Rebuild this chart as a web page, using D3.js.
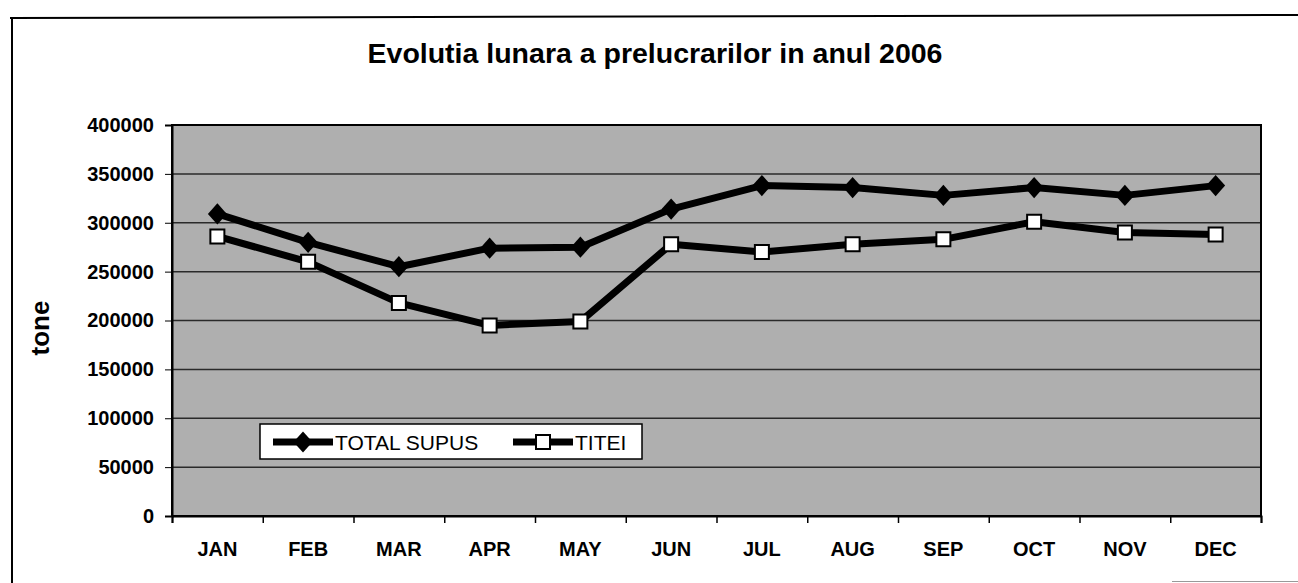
<!DOCTYPE html>
<html>
<head>
<meta charset="utf-8">
<script src="https://cdn.jsdelivr.net/npm/d3@7"></script>
<style>
  body { margin: 0; background: #fff; }
  svg { display: block; font-family: "Liberation Sans", Arial, sans-serif; }
  .axis path, .axis line { stroke: #000; }
</style>
</head>
<body>
<svg width="1298" height="583"></svg>
<script>
const months = ["JAN", "FEB", "MAR", "APR", "MAY", "JUN", "JUL", "AUG", "SEP", "OCT", "NOV", "DEC"];
const totalSupus = [309000, 280000, 255000, 274000, 275000, 314000, 338000, 336000, 328000, 336000, 328000, 338000];
const titei = [286000, 260000, 218000, 195000, 199000, 278000, 270000, 278000, 283000, 301000, 290000, 288000];
const yTicks = [0, 50000, 100000, 150000, 200000, 250000, 300000, 350000, 400000];

const svg = d3.select("svg");
const width = +svg.attr("width");
const height = +svg.attr("height");
const margin = { top: 125, right: 37, bottom: 67, left: 172 };
const innerWidth = width - margin.left - margin.right;
const innerHeight = height - margin.top - margin.bottom;

// outer frame (only top and left edges visible)
svg.append("line").attr("x1", 10).attr("x2", 1298).attr("y1", 18).attr("y2", 15)
  .attr("stroke", "#000").attr("stroke-width", 2);
svg.append("line").attr("x1", 12).attr("x2", 12).attr("y1", 18).attr("y2", 583)
  .attr("stroke", "#000").attr("stroke-width", 2);
svg.append("line").attr("x1", 1172).attr("x2", 1298).attr("y1", 581.5).attr("y2", 581.5)
  .attr("stroke", "#999").attr("stroke-width", 1);

svg.append("text")
  .attr("x", 655)
  .attr("y", 63)
  .attr("text-anchor", "middle")
  .attr("font-size", 28.5)
  .attr("font-weight", "bold")
  .text("Evolutia lunara a prelucrarilor in anul 2006");

const g = svg.append("g").attr("transform", `translate(${margin.left}, ${margin.top})`);

const xScale = d3.scaleBand().domain(months).range([0, innerWidth]);
const xEdge = d3.scaleLinear().domain([0, months.length]).range([0, innerWidth]);
const yScale = d3.scaleLinear().domain([0, 400000]).range([innerHeight, 0]);

g.append("rect")
  .attr("width", innerWidth)
  .attr("height", innerHeight)
  .attr("fill", "#afafaf");

g.selectAll(".grid")
  .data(yTicks)
  .enter()
  .append("line")
  .attr("class", "grid")
  .attr("x1", 0)
  .attr("x2", innerWidth)
  .attr("y1", (d) => yScale(d))
  .attr("y2", (d) => yScale(d))
  .attr("stroke", "#2a2a2a")
  .attr("stroke-width", 1.5);

g.append("rect")
  .attr("width", innerWidth)
  .attr("height", innerHeight)
  .attr("fill", "none")
  .attr("stroke", "#000")
  .attr("stroke-width", 2);

const yAxisG = g.append("g")
  .attr("class", "axis")
  .call(d3.axisLeft(yScale).tickValues(yTicks).tickFormat(d3.format("d")).tickSize(7).tickPadding(11));
yAxisG.select(".domain").attr("stroke-width", 2);
yAxisG.selectAll("text").attr("font-size", 20).attr("font-weight", "bold").attr("fill", "#000")
  .attr("font-family", "Liberation Sans, Arial, sans-serif");

const xTickG = g.append("g")
  .attr("class", "axis")
  .attr("transform", `translate(0, ${innerHeight})`)
  .call(d3.axisBottom(xEdge).tickValues(d3.range(months.length + 1)).tickFormat("").tickSize(7));
xTickG.select(".domain").attr("stroke-width", 2);
xTickG.selectAll("line").attr("stroke-width", 1.5);

const xAxisG = g.append("g")
  .attr("transform", `translate(0, ${innerHeight})`)
  .call(d3.axisBottom(xScale).tickSize(0).tickPadding(26));
xAxisG.select(".domain").remove();
xAxisG.selectAll("text").attr("font-size", 20).attr("font-weight", "bold").attr("fill", "#000")
  .attr("font-family", "Liberation Sans, Arial, sans-serif");

svg.append("text")
  .attr("transform", "translate(49, 328) rotate(-90)")
  .attr("text-anchor", "middle")
  .attr("font-size", 26)
  .attr("font-weight", "bold")
  .text("tone");

const xc = (d, i) => xScale(months[i]) + xScale.bandwidth() / 2;
const lineGenerator = d3.line().x(xc).y((d) => yScale(d));

g.append("path")
  .attr("d", lineGenerator(totalSupus))
  .attr("fill", "none")
  .attr("stroke", "#000")
  .attr("stroke-width", 7)
  .attr("stroke-linejoin", "round");

g.append("path")
  .attr("d", lineGenerator(titei))
  .attr("fill", "none")
  .attr("stroke", "#000")
  .attr("stroke-width", 7)
  .attr("stroke-linejoin", "round");

const diamond = d3.symbol().type(d3.symbolSquare).size(180);
const square = d3.symbol().type(d3.symbolSquare).size(196);

g.selectAll(".dia")
  .data(totalSupus)
  .enter()
  .append("path")
  .attr("class", "dia")
  .attr("d", diamond)
  .attr("transform", (d, i) => `translate(${xc(d, i)}, ${yScale(d)}) scale(1, 1.12) rotate(45)`)
  .attr("fill", "#000");

g.selectAll(".sq")
  .data(titei)
  .enter()
  .append("path")
  .attr("class", "sq")
  .attr("d", square)
  .attr("transform", (d, i) => `translate(${xc(d, i)}, ${yScale(d)})`)
  .attr("fill", "#fff")
  .attr("stroke", "#000")
  .attr("stroke-width", 2);

// legend
const legend = svg.append("g").attr("transform", "translate(260, 424)");
legend.append("rect")
  .attr("width", 382)
  .attr("height", 35)
  .attr("fill", "#fff")
  .attr("stroke", "#000")
  .attr("stroke-width", 1.5);

const legendItems = [
  { name: "TOTAL SUPUS", x: 13, marker: "dia" },
  { name: "TITEI", x: 253, marker: "sq" }
];

legendItems.forEach((item) => {
  const li = legend.append("g").attr("transform", `translate(${item.x}, 18)`);
  li.append("line").attr("x1", 0).attr("x2", 60).attr("stroke", "#000").attr("stroke-width", 7);
  if (item.marker === "dia") {
    li.append("path").attr("d", diamond).attr("transform", "translate(30, 0) scale(1, 1.12) rotate(45)").attr("fill", "#000");
  } else {
    li.append("path").attr("d", square).attr("transform", "translate(30, 0)")
      .attr("fill", "#fff").attr("stroke", "#000").attr("stroke-width", 2);
  }
  li.append("text")
    .attr("x", 62)
    .attr("y", 7.5)
    .attr("font-size", 21)
    .text(item.name);
});
</script>
</body>
</html>
